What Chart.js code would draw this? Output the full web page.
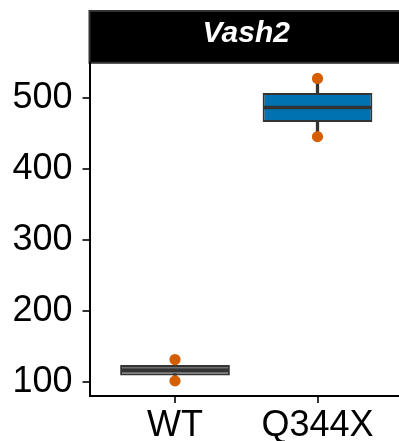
<!DOCTYPE html>
<html>
<head>
<meta charset="utf-8">
<script src="https://cdn.jsdelivr.net/npm/chart.js@4/dist/chart.umd.min.js"></script>
<style>
  html, body { margin: 0; padding: 0; background: #ffffff; overflow: hidden; width: 399px; height: 441px; }
  #wrap { position: absolute; left: 0; top: 0; width: 420px; height: 441px; }
  canvas { display: block; }
</style>
</head>
<body>
<div id="wrap"><canvas id="c" width="420" height="441"></canvas></div>
<script>
// ---- data ----
const panelTitle = 'Vash2';
const categories = ['WT', 'Q344X'];
const categoryPositions = [1, 2];
const wtPoints = [101, 131];
const q344xPoints = [445, 527];
const boxLower = [108.5, 465.5];   // first quartile
const boxMedian = [116, 486];      // median
const boxUpper = [123.5, 506.5];   // third quartile
const whiskerLow = [101, 445];
const whiskerHigh = [131, 527];
const yTicks = [100, 200, 300, 400, 500];
const yMin = 79.7;
const yMax = 548.3;
const xMin = 0.4;
const xMax = 2.6;
const boxColors = ['#6E6E6E', '#0072B2'];

// ---- build datasets from the arrays ----
const whiskerData = categoryPositions.map((x, i) => ({ x: x, y: [whiskerLow[i], whiskerHigh[i]] }));
const boxData = categoryPositions.map((x, i) => ({ x: x, y: [boxLower[i], boxUpper[i]] }));
const medianData = categoryPositions.map((x, i) => ({ x: x, y: boxMedian[i] }));
const pointData = [];
wtPoints.forEach(v => pointData.push({ x: categoryPositions[0], y: v }));
q344xPoints.forEach(v => pointData.push({ x: categoryPositions[1], y: v }));

const FONT = '"Liberation Sans", Arial, Helvetica, sans-serif';

const stripPlugin = {
  id: 'strip',
  beforeDraw(chart) {
    const tb = chart.titleBlock;
    const ca = chart.chartArea;
    const ctx = chart.ctx;
    ctx.save();
    const y0 = tb.top + 1;
    const y1 = tb.bottom - 0.5;
    ctx.fillStyle = '#000000';
    ctx.fillRect(ca.left, y0, chart.width - ca.left + 10, y1 - y0);
    ctx.strokeStyle = '#333333';
    ctx.lineWidth = 2;
    ctx.strokeRect(ca.left, y0, chart.width - ca.left + 10, y1 - y0);
    ctx.restore();
  }
};

new Chart(document.getElementById('c'), {
  type: 'bar',
  data: {
    datasets: [
      {
        type: 'scatter',
        label: 'points',
        data: pointData,
        order: 0,
        pointStyle: 'circle',
        pointRadius: 5.6,
        pointBackgroundColor: '#D55E00',
        pointBorderColor: '#D55E00',
        pointBorderWidth: 0
      },
      {
        type: 'scatter',
        label: 'median',
        data: medianData,
        order: 1,
        pointStyle: 'line',
        pointRadius: 54,
        pointBorderColor: '#333333',
        pointBorderWidth: 3.5
      },
      {
        type: 'bar',
        label: 'box',
        data: boxData,
        order: 2,
        backgroundColor: boxColors,
        borderColor: '#333333',
        borderWidth: 2,
        borderSkipped: false,
        categoryPercentage: 1,
        barPercentage: 0.77
      },
      {
        type: 'bar',
        label: 'whisker',
        data: whiskerData,
        order: 3,
        backgroundColor: '#333333',
        borderWidth: 0,
        barThickness: 2.6
      }
    ]
  },
  options: {
    responsive: false,
    animation: false,
    devicePixelRatio: 1,
    events: [],
    layout: { autoPadding: false, padding: { top: 10, right: 17, left: 0, bottom: 0 } },
    plugins: {
      legend: { display: false },
      tooltip: { enabled: false },
      title: {
        display: true,
        text: panelTitle,
        color: '#ffffff',
        fullSize: false,
        align: 'center',
        font: { family: FONT, size: 30, weight: 'bold', style: 'italic', lineHeight: 1.2 },
        padding: { top: 5.3, bottom: 12 }
      }
    },
    scales: {
      x: {
        type: 'linear',
        stacked: true,
        offset: false,
        min: xMin,
        max: xMax,
        afterBuildTicks: (scale) => { scale.ticks = categoryPositions.map(v => ({ value: v })); },
        afterFit: (scale) => { scale.height = 45; scale.paddingLeft = 0; scale.paddingRight = 0; },
        ticks: {
          autoSkip: false,
          maxRotation: 0,
          color: '#000000',
          padding: 1,
          font: { family: FONT, size: 36 },
          callback: (value) => categories[categoryPositions.indexOf(value)]
        },
        grid: { display: true, offset: false, drawOnChartArea: false, tickLength: 7, color: '#333333', lineWidth: 2 },
        border: { display: true, color: '#000000', width: 2 }
      },
      y: {
        type: 'linear',
        stacked: false,
        min: yMin,
        max: yMax,
        afterBuildTicks: (scale) => { scale.ticks = yTicks.map(v => ({ value: v })); },
        afterFit: (scale) => { scale.width = 89.5; },
        ticks: {
          color: '#000000',
          padding: 10,
          font: { family: FONT, size: 36 }
        },
        grid: { display: true, drawOnChartArea: false, tickLength: 7, color: '#333333', lineWidth: 2 },
        border: { display: true, color: '#000000', width: 2 }
      }
    }
  },
  plugins: [stripPlugin]
});
</script>
</body>
</html>
